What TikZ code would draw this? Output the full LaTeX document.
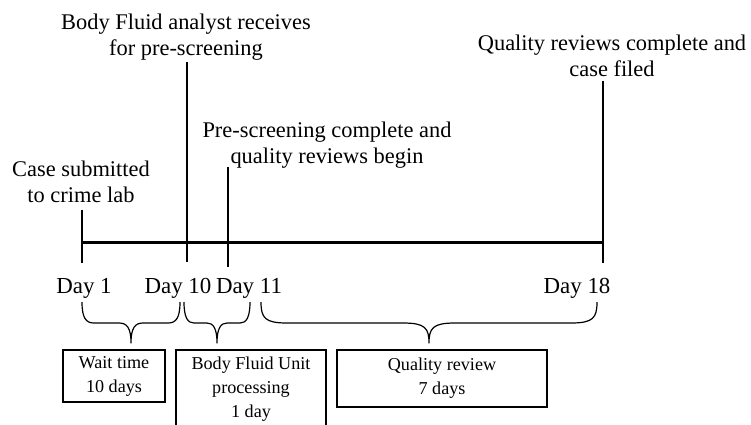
\documentclass[tikz,border=0pt]{standalone}
\usepackage{fontspec}
\setmainfont{Liberation Serif}
\usepackage{tikz}
\usetikzlibrary{positioning, calc}

\newcommand{\spanbrace}[3]{%
  \draw[line width=1.2bp, line join=round]
    (#1,302) .. controls (#1,318) and ({#1+4},323) .. ({#1+#3},323)
    -- ({(#1+#2)/2-#3},323) .. controls ({(#1+#2)/2-4},323) and ({(#1+#2)/2},328) .. ({(#1+#2)/2},343)
    .. controls ({(#1+#2)/2},328) and ({(#1+#2)/2+4},323) .. ({(#1+#2)/2+#3},323)
    -- ({#2-#3},323) .. controls ({#2-4},323) and (#2,318) .. (#2,302);}

\begin{document}
\begin{tikzpicture}[x=1bp, y=-1bp,
  event/.style={align=center, inner sep=0pt, anchor=north, font=\fontsize{22.5}{26}\selectfont},
  daylbl/.style={anchor=base, inner sep=0pt, font=\fontsize{23}{26}\selectfont},
  daytick/.style={line width=1.2bp},
  period/.style={draw, line width=1.1bp, align=center, inner sep=0pt, font=\fontsize{18.2}{24}\selectfont}]
\useasboundingbox (0,0) rectangle (751,424);
\clip (0,0) rectangle (751,424);
\node[event] (recv)  at (186,13.6)  {Body Fluid analyst receives\\for pre-screening};
\node[event] (sub)   at (81,160.6)  {Case submitted\\to crime lab};
\node[event] (pre)   at (327,121.6) {Pre-screening complete and\\quality reviews begin};
\node[event] (filed) at (612,34.6)  {Quality reviews complete and\\case filed};
\coordinate (t1top) at (82,210);   \coordinate (t1bot) at (82,263);
\coordinate (t10top) at (187,62);  \coordinate (t10bot) at (187,262);
\coordinate (t11top) at (228,167); \coordinate (t11bot) at (228,267);
\coordinate (t18top) at (603,81);  \coordinate (t18bot) at (603,263);
\coordinate (lineL) at (82,242);   \coordinate (lineR) at (603,242);
\draw[line width=3bp] (lineL) -- (lineR);
\draw[daytick] (t1top) -- (t1bot);
\draw[daytick] (t10top) -- (t10bot);
\draw[daytick] (t11top) -- (t11bot);
\draw[daytick] (t18top) -- (t18bot);
\node[daylbl] (day1)  at (84,293)  {Day 1};
\node[daylbl] (day10) at (178,293) {Day 10};
\node[daylbl] (day11) at (249,293) {Day 11};
\node[daylbl] (day18) at (577,293) {Day 18};
\spanbrace{82}{180}{12}
\spanbrace{184}{250}{10}
\spanbrace{261}{597}{26}
\node[period, minimum width=102bp, minimum height=52bp] (wait) at (114,376)   {Wait time\\10 days};
\node[period, minimum width=150bp, minimum height=78bp] (unit) at (251,389)   {Body Fluid Unit\\processing\\1 day};
\node[period, minimum width=210bp, minimum height=57bp] (qrev) at (442,378.5) {Quality review\\7 days};
\end{tikzpicture}
\end{document}
